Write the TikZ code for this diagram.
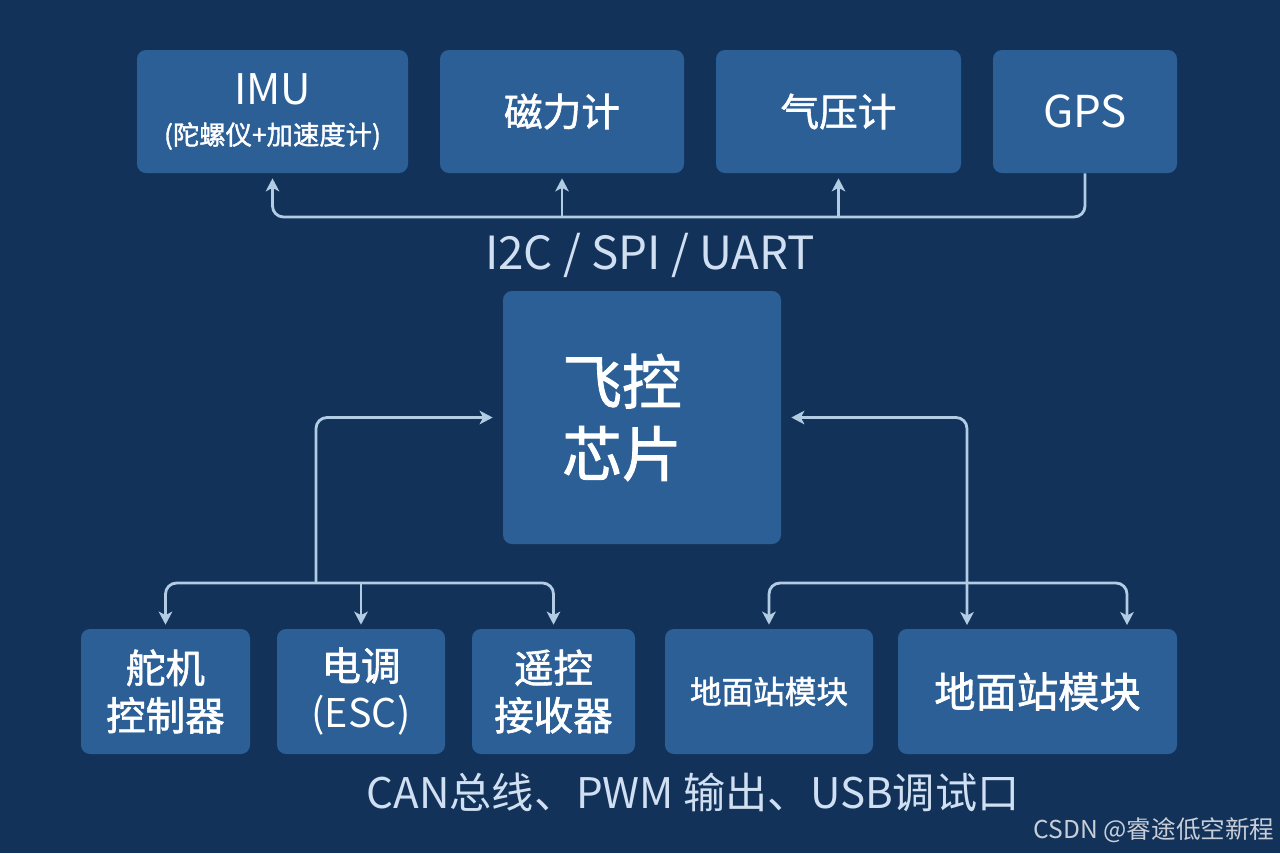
\documentclass[tikz,border=0pt]{standalone}
\usepackage{fontspec}
\setmainfont{Noto Sans CJK SC}
\newfontfamily\medf{Noto Sans CJK SC}[FakeBold=1.5]
\usetikzlibrary{arrows.meta}
\definecolor{bgc}{RGB}{18,50,90}
\definecolor{boxc}{RGB}{43,95,150}
\definecolor{linec}{RGB}{178,204,228}
\definecolor{labc}{RGB}{208,224,242}
\definecolor{wmc}{RGB}{200,206,216}
\newcommand{\myfs}[2]{\fontsize{#1}{#2}\selectfont}
\begin{document}
\begin{tikzpicture}[x=0.02cm,y=-0.02cm,
  box/.style={fill=boxc, rounded corners=0.18cm, text=white, align=center, inner sep=0pt},
  topbox/.style={box, minimum height=123*0.02cm},
  botbox/.style={box, minimum height=125*0.02cm},
  conn/.style={draw=linec, line width=1.6pt, rounded corners=0.22cm,
    >={Stealth[length=0.26cm,width=0.27cm,inset=0.07cm]}},
  lab/.style={text=labc, inner sep=0pt}]
\fill[bgc] (0,0) rectangle (1280,853);
\useasboundingbox (0,0) rectangle (1280,853);

% top row
\node[topbox, minimum width=271*0.02cm, font=\myfs{24pt}{23pt}] (imu) at (272.5,111.5)
  {IMU\\{\medf\myfs{15pt}{18pt}(陀螺仪+加速度计)}};
\node[topbox, minimum width=244*0.02cm, font=\medf\myfs{22pt}{26pt}] (mag) at (562,111.5) {磁力计};
\node[topbox, minimum width=245*0.02cm, font=\medf\myfs{22pt}{26pt}] (baro) at (838.5,111.5) {气压计};
\node[topbox, minimum width=184*0.02cm, font=\myfs{25pt}{30pt}] (gps) at (1085,111.5) {GPS};

% centre
\node[box, minimum width=278*0.02cm, minimum height=253*0.02cm, font=\medf\myfs{34pt}{41pt}] (fc) at (642,417.5) {飞控\kern0.8cm\\芯片\kern0.8cm};

% bottom row
\node[botbox, minimum width=169*0.02cm, font=\medf\myfs{22.5pt}{27pt}] (servo) at (165.5,691.5) {舵机\\控制器};
\node[botbox, minimum width=168*0.02cm, font=\medf\myfs{22.5pt}{27pt}] (esc) at (361,691.5) {电调\\{\normalfont\myfs{22.5pt}{27pt}(ESC)}};
\node[botbox, minimum width=163*0.02cm, font=\medf\myfs{22.5pt}{27pt}] (rc) at (553.5,691.5) {遥控\\接收器};
\node[botbox, minimum width=208*0.02cm, font=\medf\myfs{18pt}{22pt}] (gs1) at (769,691.5) {地面站模块};
\node[botbox, minimum width=279*0.02cm, font=\medf\myfs{23.5pt}{28pt}] (gs2) at (1037.5,691.5) {地面站模块};

% top bus
\coordinate (tb) at (650,217);
\draw[conn,->,shorten >=0.1cm] (gps.south) |- (tb) -| (imu.south);
\draw[conn,->,shorten >=0.1cm] (mag.south |- tb) -- (mag.south);
\draw[conn,->,shorten >=0.1cm] (baro.south |- tb) -- (baro.south);
\node[lab, font=\myfs{26pt}{30pt}] (buslab) at (650,255) {I2C / SPI / UART};

% left bus
\coordinate (lb) at (316,583);
\draw[conn,->,shorten >=0.2cm] (lb) |- (fc.west);
\draw[conn,->,shorten >=0.08cm] (lb) -| (servo.north);
\draw[conn,->,shorten >=0.08cm] (lb) -| (rc.north);
\draw[conn,->,shorten >=0.08cm] (esc.north |- lb) -- (esc.north);

% right bus
\coordinate (rb) at (967,583);
\coordinate (rbt) at (967,629);
\coordinate (rat) at (1127,629);
\draw[conn,<->,shorten <=0.2cm,shorten >=0.08cm] (fc.east) -| (rbt);
\draw[conn,->,shorten >=0.08cm] (rb) -| (gs1.north);
\draw[conn,->,shorten >=0.08cm] (rb) -| (rat);

\node[lab, font=\myfs{24pt}{28pt}] (botlab) at (693,792) {CAN总线、PWM 输出、USB调试口};
\node[text=wmc, inner sep=0pt, font=\myfs{14pt}{16pt}] (wm) at (1154,830) {CSDN @睿途低空新程};
\end{tikzpicture}
\end{document}
